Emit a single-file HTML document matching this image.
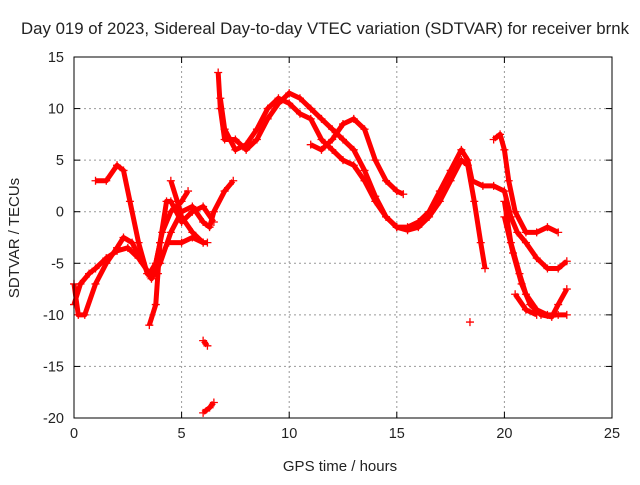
<!DOCTYPE html>
<html><head><meta charset="utf-8">
<style>
body{margin:0;background:#fff;}
svg text{font-family:"Liberation Sans",sans-serif;fill:#222;}
</style></head>
<body>
<svg id="chart" width="640" height="480" viewBox="0 0 640 480" xmlns="http://www.w3.org/2000/svg">
<rect width="640" height="480" fill="#fff"/>
<text x="21" y="34" font-size="16.5" textLength="608" lengthAdjust="spacingAndGlyphs">Day 019 of 2023, Sidereal Day-to-day VTEC variation (SDTVAR) for receiver brnk</text>
<text x="340" y="471" font-size="15" text-anchor="middle">GPS time / hours</text>
<text transform="translate(19,238) rotate(-90)" font-size="15" text-anchor="middle">SDTVAR / TECUs</text>
<g id="grid"></g><g id="ticks"></g><g id="marks"></g>
<rect x="74" y="57" width="538" height="361" fill="none" stroke="#000" stroke-width="1"/>
</svg>
<script>
const xTicks=[0,5,10,15,20,25];
const yTicks=[-20,-15,-10,-5,0,5,10,15];
const trackA=[[0,-7],[0.2,-10],[0.5,-10],[1,-7],[1.5,-5],[2,-3.5],[2.3,-2.5],[2.7,-3],[3.2,-5],[3.6,-6.5],[4,-5],[4.5,-2],[5,0],[5.5,0.5],[6,-1],[6.3,-1.5],[6.5,0],[7,2],[7.4,3]];
const trackB=[[1,3],[1.5,3],[2,4.5],[2.3,4],[2.6,1],[3,-3],[3.4,-6],[3.7,-6],[4,-3],[4.3,1],[4.5,1],[5,-1],[5.5,0],[6,0.5],[6.5,-1]];
const trackC=[[0,-9],[0.3,-7],[0.7,-6],[1,-5.5],[1.5,-4.5],[2,-3.8],[2.5,-3.5],[3,-4.5],[3.5,-6],[3.8,-5],[4.1,-2],[4.5,0],[5,1],[5.3,2]];
const trackD=[[3.5,-11],[3.8,-9],[3.9,-6],[4,-3]];
const trackE=[[4.5,3],[4.8,1],[5,-0.5],[5.5,-2],[6,-3],[6.2,-3]];
const trackE2=[[4.4,-3],[5,-3],[5.5,-2.5],[6,-3]];
const trackN1=[[6,-12.5],[6.2,-13]];
const trackN2=[[6,-19.5],[6.3,-19],[6.5,-18.5]];
const trackF=[[6.7,13.5],[6.8,10],[7,7],[7.5,7],[8,6],[8.5,7],[9,9],[9.5,10.5],[10,11.5],[10.5,11],[11,10],[11.5,9],[12,8],[12.5,7],[13,6],[13.5,4],[14,1.5],[14.5,-0.5],[15,-1.5],[15.5,-1.5],[16,-1],[16.5,0],[17,2],[17.5,4],[18,6],[18.3,5],[18.5,3],[19,2.5],[19.5,2.5],[20,2],[20.3,-0.5],[20.6,-2],[21,-3],[21.5,-4.5],[22,-5.5],[22.5,-5.5],[22.9,-4.8]];
const trackG=[[6.8,11],[7,8],[7.5,6],[8,6.5],[8.5,8],[9,10],[9.5,11],[10,10.5],[10.5,9.5],[11,9],[11.5,7],[12,6],[12.5,5],[13,4.5],[13.5,3],[14,1],[14.5,-0.5],[15,-1.5],[15.5,-1.8],[16,-1.5],[16.5,-0.5],[17,1],[17.5,3],[18,5],[18.3,4.5],[18.6,1],[18.9,-3],[19.1,-5.5]];
const trackH=[[11,6.5],[11.5,6],[12,7],[12.5,8.5],[13,9],[13.5,8],[14,5],[14.5,3],[15,2],[15.3,1.7]];
const trackI=[[19.5,7],[19.8,7.5],[20,6],[20.2,3],[20.5,0],[21,-2],[21.5,-2],[22,-1.5],[22.5,-2]];
const trackJ=[[20,1],[20.3,-3],[20.7,-6],[21,-8],[21.5,-9.5],[22,-10],[22.5,-10],[22.9,-10]];
const trackK=[[20,-0.5],[20.4,-4],[20.8,-7],[21.2,-9],[21.7,-10],[22.2,-10.2],[22.5,-9],[22.9,-7.5]];
const trackL=[[20.5,-8],[21,-9.5],[21.5,-10]];
const trackP=[[18.4,-10.7]];
const tracks=[trackA,trackB,trackC,trackD,trackE,trackE2,trackN1,trackN2,trackF,trackG,trackH,trackI,trackJ,trackK,trackL,trackP];

const X0=74,X1=612,Y0=418,Y1=57;
const xs=v=>X0+(v-0)/25*(X1-X0);
const ys=v=>Y0-(v+20)/35*(Y0-Y1);
const NS="http://www.w3.org/2000/svg";
const grid=document.getElementById('grid'),ticks=document.getElementById('ticks'),marks=document.getElementById('marks');
function mk(t,a,p){const e=document.createElementNS(NS,t);for(const k in a)e.setAttribute(k,a[k]);p.appendChild(e);return e;}
xTicks.forEach(v=>{const x=xs(v);
 if(v>0&&v<25){const g=mk('line',{x1:x,y1:Y0,x2:x,y2:Y1,stroke:'#999','stroke-dasharray':'2,3'},grid);
 
 }
 const t=mk('text',{x:x,y:Y0+20,'font-size':14.5,'text-anchor':'middle'},ticks);t.textContent=v;
 
 
 mk('line',{x1:x,y1:Y0,x2:x,y2:Y0-6,stroke:'#000'},ticks);mk('line',{x1:x,y1:Y1,x2:x,y2:Y1+6,stroke:'#000'},ticks);});
yTicks.forEach(v=>{const y=ys(v);
 if(v>-20&&v<15){const g=mk('line',{x1:X0,y1:y,x2:X1,y2:y,stroke:'#999','stroke-dasharray':'2,3'},grid);
 
 }
 const t=mk('text',{x:X0-10,y:y+5,'font-size':14.5,'text-anchor':'end'},ticks);t.textContent=v;
 
 
 mk('line',{x1:X0,y1:y,x2:X0+6,y2:y,stroke:'#000'},ticks);mk('line',{x1:X1,y1:y,x2:X1-6,y2:y,stroke:'#000'},ticks);});
tracks.forEach(tr=>{
 const pl=mk('polyline',{points:tr.map(p=>xs(p[0])+','+ys(p[1])).join(' '),fill:'none',stroke:'#f00','stroke-width':5,'stroke-linejoin':'round'},marks);
 
 
 tr.forEach(p=>{const x=xs(p[0]),y=ys(p[1]);
  const m=mk('path',{d:`M${x-4},${y}H${x+4}M${x},${y-4}V${y+4}`,stroke:'#f00','stroke-width':1.3},marks);
  
  });
});
</script>
</body></html>
